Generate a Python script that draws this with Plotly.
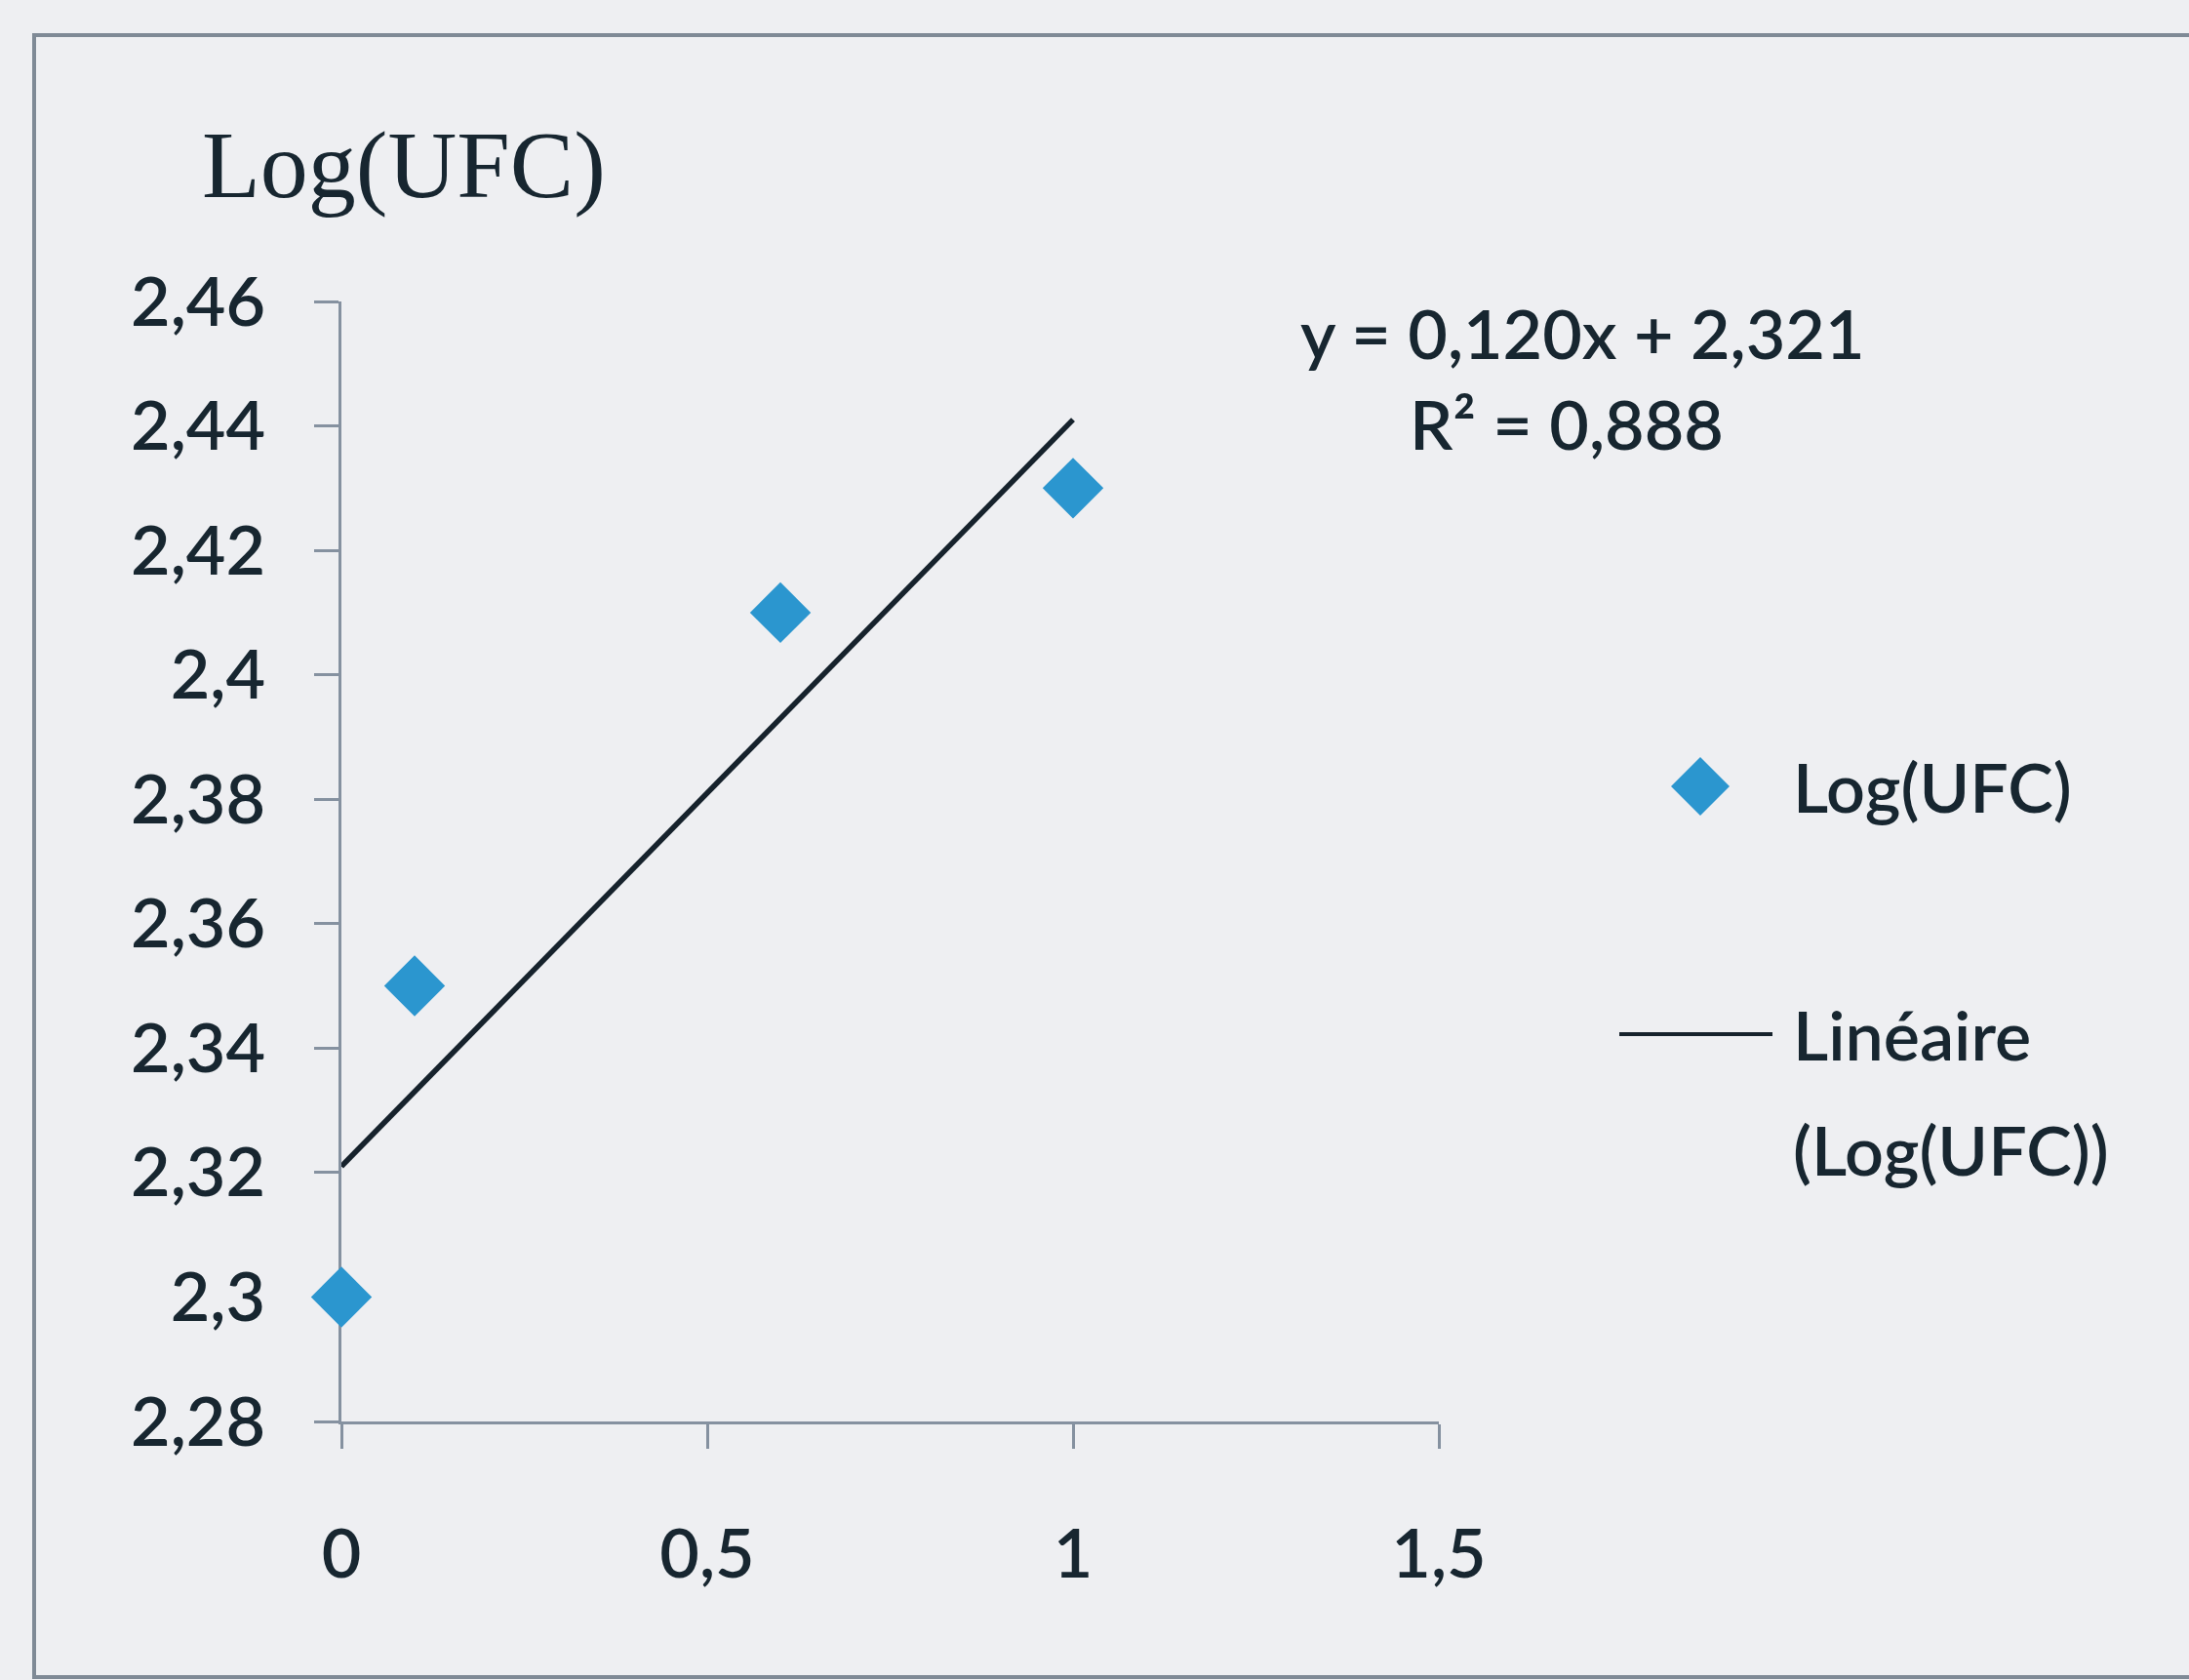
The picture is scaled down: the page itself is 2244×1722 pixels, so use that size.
import plotly.graph_objects as go

# ---- data ----
od_values = [0.0, 0.1, 0.6, 1.0]
log_ufc = [2.30, 2.35, 2.41, 2.43]
trend_slope = 0.120
trend_intercept = 2.321
x_tickvals = [0, 0.5, 1, 1.5]
x_ticktext = ["0", "0,5", "1", "1,5"]
y_tickvals = [2.28, 2.30, 2.32, 2.34, 2.36, 2.38, 2.40, 2.42, 2.44, 2.46]
y_ticktext = ["2,28", "2,3", "2,32", "2,34", "2,36", "2,38", "2,4", "2,42", "2,44", "2,46"]
y_title = "Log(UFC)"
series_name = "Log(UFC)"
trend_name = ["Linéaire", "(Log(UFC))"]
equation_text = "y = 0,120x + 2,321"
r2_text = "R² = 0,888"

# ---- style ----
W, H = 2244, 1722
L, R, T, B = 350, 1475, 309, 1457
PW, PH = R - L, B - T
BG = "#eeeff2"
TXT = "#172630"
AX = "#8591a0"
BLUE = "#2b96cf"
FONT = "Lato"
FS = 70
FW = 600

def px_x(p):
    return (p - L) / PW

def px_y(p):
    return (B - p) / PH

trend_x = [min(od_values), max(od_values)]
trend_y = [trend_slope * v + trend_intercept for v in trend_x]

fig = go.Figure()
fig.add_trace(go.Scatter(
    x=trend_x, y=trend_y, mode="lines",
    line=dict(color="#16222c", width=5.5),
    showlegend=False, cliponaxis=False,
))
fig.add_trace(go.Scatter(
    x=od_values, y=log_ufc, mode="markers",
    marker=dict(symbol="diamond", size=48, color=BLUE, line=dict(width=0)),
    showlegend=False, cliponaxis=False,
))

axis_common = dict(
    showline=True, linecolor=AX, linewidth=3,
    ticks="outside", ticklen=25, tickwidth=3, tickcolor=AX,
    showgrid=False, zeroline=False, layer="below traces",
    tickfont=dict(family=FONT, size=FS, color=TXT, weight=FW),
)
fig.update_xaxes(range=[0, 1.5], tickvals=x_tickvals, ticktext=x_ticktext,
                 ticklabelstandoff=48, **axis_common)
fig.update_yaxes(range=[2.28, 2.46], tickvals=y_tickvals, ticktext=y_ticktext,
                 ticklabelstandoff=36, **axis_common)

shapes = [
    # outer chart border
    dict(type="rect", xref="paper", yref="paper",
         x0=px_x(35), x1=px_x(2270), y0=px_y(1719), y1=px_y(36),
         line=dict(color="#7f8a96", width=4), fillcolor="rgba(0,0,0,0)", layer="below"),
    # legend diamond
    dict(type="path", xref="paper", yref="paper",
         xsizemode="pixel", ysizemode="pixel",
         xanchor=px_x(1743), yanchor=px_y(806),
         path="M -30 0 L 0 30 L 30 0 L 0 -30 Z",
         fillcolor=BLUE, line=dict(width=0)),
    # legend line sample
    dict(type="line", xref="paper", yref="paper",
         x0=px_x(1660), x1=px_x(1817), y0=px_y(1060), y1=px_y(1060),
         line=dict(color="#16222c", width=4)),
]

def note(text, x, y, anchor="left", family=FONT, size=FS, weight=FW):
    return dict(text=text, xref="paper", yref="paper", x=px_x(x), y=px_y(y),
                xanchor=anchor, yanchor="middle", showarrow=False,
                font=dict(family=family, size=size, color=TXT, weight=weight))

annotations = [
    note(y_title, 205, 169, family="Liberation Serif", size=98, weight=400),
    note(equation_text, 1622, 341, anchor="center"),
    note(r2_text, 1606, 434, anchor="center"),
    note(series_name, 1836, 806),
    note(trend_name[0], 1836, 1060),
    note(trend_name[1], 1836, 1178),
]

fig.update_layout(
    width=W, height=H,
    margin=dict(l=L, r=W - R, t=T, b=H - B, pad=0),
    paper_bgcolor=BG, plot_bgcolor=BG,
    showlegend=False,
    shapes=shapes, annotations=annotations,
)

fig.write_html("out.html")
